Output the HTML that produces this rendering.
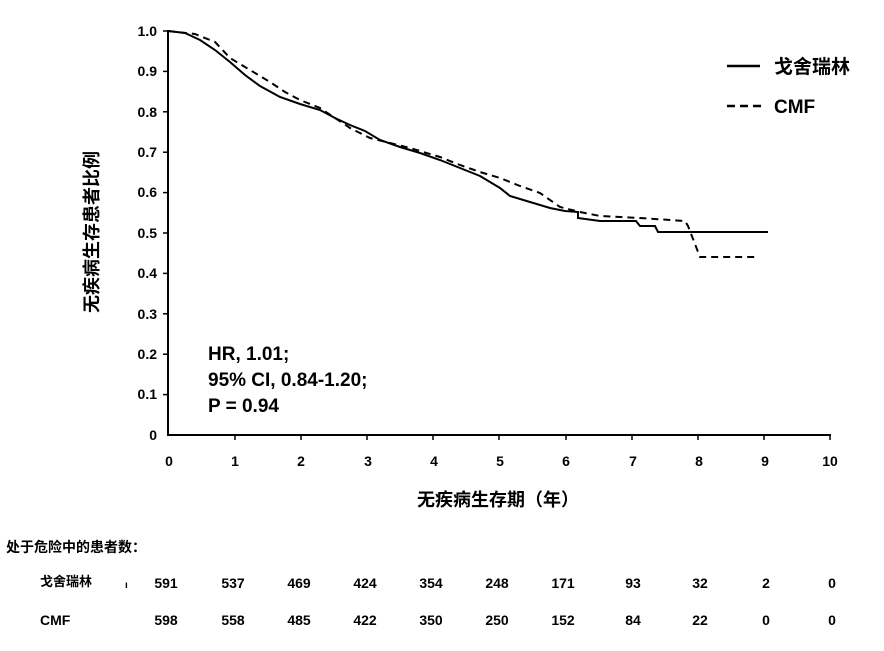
<!DOCTYPE html>
<html><head><meta charset="utf-8"><style>
body{margin:0;background:#fff;}
text{font-family:"Liberation Sans","Noto Sans CJK SC",sans-serif;font-weight:bold;fill:#000;}
</style></head><body>
<svg width="884" height="646" viewBox="0 0 884 646" xmlns="http://www.w3.org/2000/svg">
<g stroke="#000" stroke-width="2" fill="none">
<line x1="168" y1="30" x2="168" y2="436"/>
<line x1="168" y1="435" x2="831" y2="435"/>
</g>
<g stroke="#000" stroke-width="1.5">
<line x1="163" y1="31" x2="168" y2="31"/><line x1="163" y1="71.4" x2="168" y2="71.4"/><line x1="163" y1="111.8" x2="168" y2="111.8"/><line x1="163" y1="152.2" x2="168" y2="152.2"/><line x1="163" y1="192.6" x2="168" y2="192.6"/><line x1="163" y1="233" x2="168" y2="233"/><line x1="163" y1="273.4" x2="168" y2="273.4"/><line x1="163" y1="313.8" x2="168" y2="313.8"/><line x1="163" y1="354.2" x2="168" y2="354.2"/><line x1="163" y1="394.6" x2="168" y2="394.6"/>
<line x1="235" y1="435" x2="235" y2="440"/><line x1="301" y1="435" x2="301" y2="440"/><line x1="367" y1="435" x2="367" y2="440"/><line x1="433" y1="435" x2="433" y2="440"/><line x1="499" y1="435" x2="499" y2="440"/><line x1="566" y1="435" x2="566" y2="440"/><line x1="632" y1="435" x2="632" y2="440"/><line x1="698" y1="435" x2="698" y2="440"/><line x1="764" y1="435" x2="764" y2="440"/><line x1="830" y1="435" x2="830" y2="440"/>
</g>
<g font-size="14" text-anchor="end">
<text x="157" y="36">1.0</text><text x="157" y="76">0.9</text><text x="157" y="117">0.8</text><text x="157" y="157">0.7</text><text x="157" y="197">0.6</text><text x="157" y="238">0.5</text><text x="157" y="278">0.4</text><text x="157" y="319">0.3</text><text x="157" y="359">0.2</text><text x="157" y="399">0.1</text><text x="157" y="440">0</text>
</g>
<g font-size="14" text-anchor="middle">
<text x="169" y="466">0</text><text x="235" y="466">1</text><text x="301" y="466">2</text><text x="368" y="466">3</text><text x="434" y="466">4</text><text x="500" y="466">5</text><text x="566" y="466">6</text><text x="633" y="466">7</text><text x="699" y="466">8</text><text x="765" y="466">9</text><text x="830" y="466">10</text>
</g>
<polyline fill="none" stroke="#000" stroke-width="2" points="168,31 185,33 200,40 215,50 230,62 245,75 260,86 280,97 300,104 320,110 335,118 350,125 365,131 380,140 400,147 420,153 440,160 460,168 480,176 500,188 510,196 530,202 550,208 565,211 578,212 578,218 600,221 636,221 640,226 655,226 658,232 768,232"/>
<polyline fill="none" stroke="#000" stroke-width="2" stroke-dasharray="7,5" points="168,31 195,34 215,42 230,58 250,70 270,82 285,92 300,100 320,108 335,118 350,128 370,138 390,143 410,148 440,157 460,165 480,172 500,178 520,186 540,193 560,207 580,212 600,216 640,218 670,220 685,221 688,226 700,257 755,257"/>
<line x1="727" y1="66" x2="760" y2="66" stroke="#000" stroke-width="2.5"/>
<line x1="727" y1="106" x2="762" y2="106" stroke="#000" stroke-width="2.5" stroke-dasharray="8,5"/>
<text x="774" y="73" font-size="19">戈舍瑞林</text>
<text x="774" y="113" font-size="19">CMF</text>
<g font-size="19"><text x="208" y="360">HR, 1.01;</text><text x="208" y="386">95% CI, 0.84-1.20;</text><text x="208" y="412">P = 0.94</text></g>
<text transform="translate(98,232) rotate(-90)" font-size="18" text-anchor="middle">无疾病生存患者比例</text>
<text x="498" y="506" font-size="18" text-anchor="middle">无疾病生存期（年）</text>
<text x="6" y="552" font-size="14">处于危险中的患者数：</text>
<g font-size="14"><text x="40" y="586" font-size="13">戈舍瑞林</text><text x="125" y="588" font-size="10">ı</text><text x="40" y="625">CMF</text></g>
<g font-size="14" text-anchor="middle">
<text x="166" y="588">591</text><text x="233" y="588">537</text><text x="299" y="588">469</text><text x="365" y="588">424</text><text x="431" y="588">354</text><text x="497" y="588">248</text><text x="563" y="588">171</text><text x="633" y="588">93</text><text x="700" y="588">32</text><text x="766" y="588">2</text><text x="832" y="588">0</text>
<text x="166" y="625">598</text><text x="233" y="625">558</text><text x="299" y="625">485</text><text x="365" y="625">422</text><text x="431" y="625">350</text><text x="497" y="625">250</text><text x="563" y="625">152</text><text x="633" y="625">84</text><text x="700" y="625">22</text><text x="766" y="625">0</text><text x="832" y="625">0</text>
</g>
</svg>
</body></html>
